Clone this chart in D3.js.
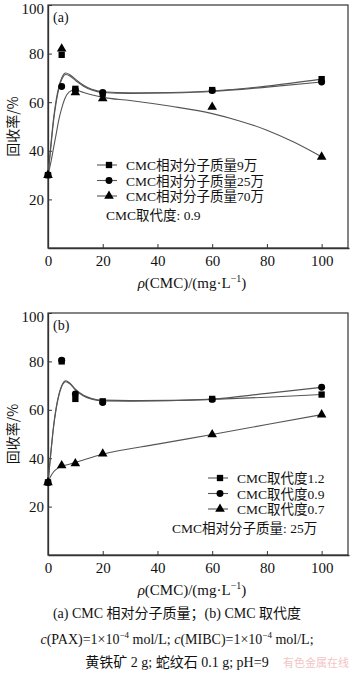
<!DOCTYPE html>
<html><head><meta charset="utf-8">
<script src="https://cdn.jsdelivr.net/npm/d3@7/dist/d3.min.js"></script>
<style>
body{margin:0;background:#fff;}
svg{display:block;}
text{font-family:"Liberation Serif","Times New Roman","Noto Sans CJK SC",serif;fill:#111;}
</style></head>
<body>
<svg id="c" width="350" height="673"></svg>
<script>
// ---- data ----
const conc = [0, 5, 10, 20, 60, 100];
const xTicks = [0, 20, 40, 60, 80, 100];
const yTicks = [20, 40, 60, 80, 100];

// panel (a): CMC relative molecular mass
const a9w  = [30, 79.5, 65.5, 63.5, 65, 69.5];
const a25w = [30, 66.5, 65, 64, 64.8, 68.3];
const a70w = [30, 82, 64, 61.5, 58, 37.5];
// fitted curves (a)
const fitA9x  = [0,1,2,3,4,5,6.5,8,10,13,16,20,30,45,60,80,100];
const fitA9y  = [30,42,53,61,66.5,70,72,71.3,69.5,67,65.3,64.3,63.9,64,64.6,66.6,69.5];
const fitA25x = [0,1,2,3,4,5,6.5,8,10,13,16,20,30,45,60,80,100];
const fitA25y = [30,41,52,60,65.8,69.3,71.4,70.8,69,66.6,65,64,63.6,63.8,64.4,66.2,68.3];
const fitA70x = [0,1,2,3,4,5,6,7,8.5,10,13,20,30,45,60,70,80,90,100];
const fitA70y = [30,35,41,47,53,57.5,61,63.3,64.7,65,64,62,60.7,58.3,55.3,52.3,48.5,43.5,37.5];

// panel (b): CMC degree of substitution
const b12 = [30, 80, 64.5, 63.5, 64.5, 66.3];
const b09 = [30, 80.5, 66.5, 63, 64.3, 69.3];
const b07 = [30, 37, 37.8, 41.8, 49.8, 58];
const fitB12x = [0,1,2,3,4,5,6.5,8,10,13,16,20,30,45,60,80,100];
const fitB12y = [30,42,53,61,66.5,70,72,71,68.5,66,64.7,64,63.8,63.9,64.3,65.2,66.3];
const fitB09x = [0,1,2,3,4,5,6.5,8,10,13,16,20,30,45,60,80,100];
const fitB09y = [30,41.5,52.5,60.5,66,69.6,71.6,70.7,68.2,65.7,64.4,63.7,63.6,63.8,64.4,66.8,69.3];
const fitB07x = [0,1,2,3.5,5,7.5,10,15,20,40,60,80,100];
const fitB07y = [30,32.5,34.3,35.8,36.7,37.4,38.2,40,41.6,45.8,49.8,53.9,58];

const legendA = ["CMC相对分子质量9万", "CMC相对分子质量25万", "CMC相对分子质量70万"];
const noteA = "CMC取代度: 0.9";
const legendB = ["CMC取代度1.2", "CMC取代度0.9", "CMC取代度0.7"];
const noteB = "CMC相对分子质量: 25万";

// ---- drawing ----
const svg = d3.select("#c");
const L = 48, R = 349;
const x = d3.scaleLinear().domain([0, 110]).range([L, R]);
const LINE = "#555";

const sym = {
  square: d3.symbol().type(d3.symbolSquare).size(40),
  circle: d3.symbol().type(d3.symbolCircle).size(38),
  triangle: d3.symbol().type(d3.symbolTriangle).size(40)
};

function panel(cfg) {
  const y = d3.scaleLinear().domain([0, 100]).range([cfg.bottom, cfg.top]);
  const g = svg.append("g");
  // frame
  g.append("rect").attr("x", L).attr("y", cfg.top).attr("width", R - L - 1)
    .attr("height", cfg.bottom - cfg.top).attr("fill", "none")
    .attr("stroke", "#333").attr("stroke-width", 1.2);
  // axes
  const ax = g.append("g").attr("transform", `translate(0,${cfg.bottom})`)
    .call(d3.axisBottom(x).tickValues(xTicks).tickSizeInner(-4).tickSizeOuter(0).tickPadding(7));
  const ay = g.append("g").attr("transform", `translate(${L},0)`)
    .call(d3.axisLeft(y).tickValues(yTicks).tickSizeInner(-4).tickSizeOuter(0).tickPadding(4));
  [ax, ay].forEach(a => {
    a.select(".domain").attr("stroke", "#333").attr("stroke-width", 1.3);
    a.selectAll(".tick line").attr("stroke", "#333");
    a.selectAll("text").style("font-size", "15px").style("font-family", "Liberation Serif").attr("fill", "#111");
  });
  // keep the top label inside the picture
  ay.selectAll(".tick").filter(d => d === 100).select("text").attr("dy", "0.55em");
  // panel label
  g.append("text").attr("x", 53).attr("y", cfg.top + 17).style("font-size", "14px").text(cfg.label);
  // y title
  g.append("text").attr("transform", `translate(18,${(cfg.top + cfg.bottom) / 2}) rotate(-90)`)
    .attr("text-anchor", "middle").style("font-size", "14px")
    .style("font-family", "'Noto Sans CJK SC', sans-serif").text("回收率/%");
  // x title
  const xt = g.append("text").attr("x", 192).attr("y", cfg.bottom + 40).attr("text-anchor", "middle")
    .style("font-size", "15px");
  xt.append("tspan").style("font-style", "italic").text("ρ");
  xt.append("tspan").text("(CMC)/(mg·L");
  xt.append("tspan").attr("dy", -6).style("font-size", "10px").text("−1");
  xt.append("tspan").attr("dy", 6).text(")");

  const line = d3.line().x(d => x(d[0])).y(d => y(d[1])).curve(d3.curveMonotoneX);
  cfg.fits.forEach(f => {
    g.append("path").datum(d3.zip(f[0], f[1])).attr("d", line)
      .attr("fill", "none").attr("stroke", LINE).attr("stroke-width", 1.1);
  });
  cfg.series.forEach(s => {
    g.selectAll(null).data(d3.zip(conc, s.v)).join("path")
      .attr("transform", d => `translate(${x(d[0])},${y(d[1])})`)
      .attr("d", sym[s.shape]).attr("fill", "#000");
  });
  // legend
  cfg.legend.forEach((t, i) => {
    const yy = cfg.legY + i * 15.5;
    g.append("line").attr("x1", cfg.legX).attr("x2", cfg.legX + 20).attr("y1", yy).attr("y2", yy)
      .attr("stroke", LINE).attr("stroke-width", 1.1);
    g.append("path").attr("transform", `translate(${cfg.legX + 12},${yy})`)
      .attr("d", sym[cfg.series[i].shape]).attr("fill", "#000");
    g.append("text").attr("x", cfg.legX + 29).attr("y", yy + 5).style("font-size", "13.5px").text(t);
  });
  g.append("text").attr("x", cfg.noteX).attr("y", cfg.noteY).style("font-size", "13.5px").text(cfg.note);
}

panel({
  top: 5, bottom: 248, label: "(a)",
  series: [{v: a9w, shape: "square"}, {v: a25w, shape: "circle"}, {v: a70w, shape: "triangle"}],
  fits: [[fitA9x, fitA9y], [fitA25x, fitA25y], [fitA70x, fitA70y]],
  legend: legendA, legX: 97, legY: 165, note: noteA, noteX: 106, noteY: 220
});
panel({
  top: 313, bottom: 555, label: "(b)",
  series: [{v: b12, shape: "square"}, {v: b09, shape: "circle"}, {v: b07, shape: "triangle"}],
  fits: [[fitB12x, fitB12y], [fitB09x, fitB09y], [fitB07x, fitB07y]],
  legend: legendB, legX: 208, legY: 478, note: noteB, noteX: 172, noteY: 533
});

// caption
const cap = svg.append("g").style("font-size", "14px");
cap.append("text").attr("x", 177).attr("y", 618).attr("text-anchor", "middle")
  .text("(a) CMC 相对分子质量；(b) CMC 取代度");
const c2 = cap.append("text").attr("x", 177).attr("y", 644).attr("text-anchor", "middle");
c2.append("tspan").style("font-style", "italic").text("c");
c2.append("tspan").text("(PAX)=1×10");
c2.append("tspan").attr("dy", -6).style("font-size", "9px").text("−4");
c2.append("tspan").attr("dy", 6).text(" mol/L; ");
c2.append("tspan").style("font-style", "italic").text("c");
c2.append("tspan").text("(MIBC)=1×10");
c2.append("tspan").attr("dy", -6).style("font-size", "9px").text("−4");
c2.append("tspan").attr("dy", 6).text(" mol/L;");
cap.append("text").attr("x", 177).attr("y", 667).attr("text-anchor", "middle")
  .text("黄铁矿 2 g; 蛇纹石 0.1 g; pH=9");
svg.append("text").attr("x", 283).attr("y", 667).style("font-size", "11px")
  .style("font-family", "'Noto Sans CJK SC', sans-serif").style("fill", "#f3c4c4")
  .text("有色金属在线");
</script>
</body></html>
